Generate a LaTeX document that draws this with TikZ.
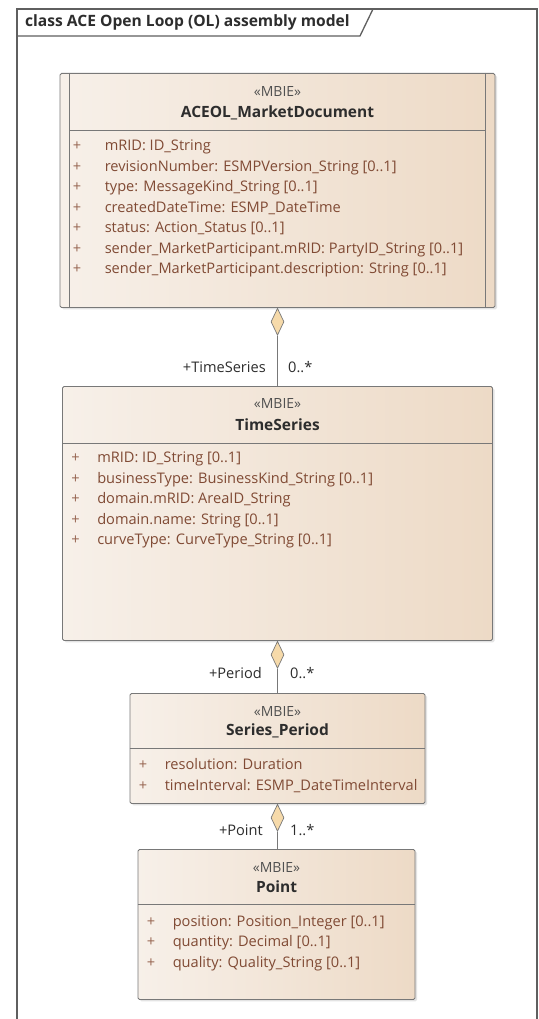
\documentclass[tikz,border=0pt]{standalone}
\usepackage{fontspec}
\setmainfont{Open Sans}
\usetikzlibrary{positioning, shapes.geometric, shadows}

\definecolor{frameline}{RGB}{95,95,95}
\definecolor{boxline}{RGB}{120,120,120}
\definecolor{boxleft}{RGB}{247,240,233}
\definecolor{boxmid}{RGB}{254,252,250}
\definecolor{boxright}{RGB}{237,218,198}
\definecolor{attrfg}{RGB}{128,74,52}
\definecolor{plusfg}{RGB}{150,100,80}
\definecolor{namefg}{RGB}{45,45,45}
\definecolor{stereofg}{RGB}{80,80,80}
\definecolor{diafill}{RGB}{246,218,170}

\newcommand{\pl}[1][26pt]{\textcolor{plusfg}{\makebox[#1][l]{+}}}

\tikzset{
  frame/.style={draw=frameline, line width=1.3pt},
  classbox/.style={draw=boxline, line width=0.9pt, rounded corners=1.5pt, inner sep=0pt,
    left color=boxleft, middle color=boxmid, right color=boxright,
    drop shadow={shadow xshift=2pt, shadow yshift=-2pt, opacity=0.22}},
  sepline/.style={draw=boxline, line width=0.9pt},
  stereo/.style={font=\fontsize{14}{16}\selectfont, text=stereofg, inner sep=0pt},
  cname/.style={font=\fontsize{15.5}{18}\selectfont\bfseries, text=namefg, inner sep=0pt},
  attr/.style={font=\fontsize{14.6}{17}\selectfont, text=attrfg, anchor=base west, inner sep=0pt},
  role/.style={font=\fontsize{14.6}{17}\selectfont, text=namefg, inner sep=0pt},
  agg/.style={diamond, draw=boxline, fill=diafill, line width=0.7pt, minimum width=13pt, minimum height=27pt, inner sep=0pt},
  assoc/.style={draw=boxline, line width=0.9pt},
  title/.style={font=\fontsize{15.6}{18}\selectfont\bfseries, text=namefg, inner sep=0pt}
}

\begin{document}
\begin{tikzpicture}[x=1pt, y=-1pt]
  \useasboundingbox[fill=white] (0,0) rectangle (538,1019);
  % diagram frame
  \draw[frame] (17,1030) -- (17,9) -- (537,9) -- (537,1030);
  \draw[frame] (17,36) -- (360,36) -- (373,9);
  \node[title, anchor=west] (title) at (25,22.5) {class ACE Open Loop (OL) assembly model};

  % ACEOL_MarketDocument
  \node[classbox, minimum width=435pt, minimum height=234pt, anchor=north] (doc) at (277.5,73) {};
  \draw[sepline] ([xshift=10pt]doc.north west) -- ([xshift=10pt]doc.south west);
  \draw[sepline] ([xshift=-10pt]doc.north east) -- ([xshift=-10pt]doc.south east);
  \node[stereo, anchor=base] (docst) at ([yshift=-24pt]doc.north) {«MBIE»};
  \node[cname, anchor=base] (docname) at ([yshift=-44.5pt]doc.north) {ACEOL\_MarketDocument};
  \draw[sepline] ([xshift=10pt, yshift=-57pt]doc.north west) -- ([xshift=-10pt, yshift=-57pt]doc.north east);
  \node[attr] (doc1) at ([xshift=13pt, yshift=-78pt]doc.north west) {\pl[32pt]mRID: ID\_String};
  \node[attr] (doc2) at ([yshift=-20.4pt]doc1.base west) {\pl[32pt]revisionNumber: ESMPVersion\_String [0..1]};
  \node[attr] (doc3) at ([yshift=-20.4pt]doc2.base west) {\pl[32pt]type: MessageKind\_String [0..1]};
  \node[attr] (doc4) at ([yshift=-20.4pt]doc3.base west) {\pl[32pt]createdDateTime: ESMP\_DateTime};
  \node[attr] (doc5) at ([yshift=-20.4pt]doc4.base west) {\pl[32pt]status: Action\_Status [0..1]};
  \node[attr] (doc6) at ([yshift=-20.4pt]doc5.base west) {\pl[32pt]sender\_MarketParticipant.mRID: PartyID\_String [0..1]};
  \node[attr] (doc7) at ([yshift=-20.4pt]doc6.base west) {\pl[32pt]sender\_MarketParticipant.description: String [0..1]};

  % TimeSeries
  \node[classbox, minimum width=430pt, minimum height=254pt, anchor=north] (ts) at (277.5,386) {};
  \node[stereo, anchor=base] (tsst) at ([yshift=-22pt]ts.north) {«MBIE»};
  \node[cname, anchor=base] (tsname) at ([yshift=-44.5pt]ts.north) {TimeSeries};
  \draw[sepline] ([yshift=-57pt]ts.north west) -- ([yshift=-57pt]ts.north east);
  \node[attr] (ts1) at ([xshift=9pt, yshift=-76.5pt]ts.north west) {\pl mRID: ID\_String [0..1]};
  \node[attr] (ts2) at ([yshift=-20.6pt]ts1.base west) {\pl businessType: BusinessKind\_String [0..1]};
  \node[attr] (ts3) at ([yshift=-20.6pt]ts2.base west) {\pl domain.mRID: AreaID\_String};
  \node[attr] (ts4) at ([yshift=-20.6pt]ts3.base west) {\pl domain.name: String [0..1]};
  \node[attr] (ts5) at ([yshift=-20.6pt]ts4.base west) {\pl curveType: CurveType\_String [0..1]};

  % Series_Period
  \node[classbox, minimum width=295pt, minimum height=110pt, anchor=north] (per) at (277.5,693) {};
  \node[stereo, anchor=base] (perst) at ([yshift=-23pt]per.north) {«MBIE»};
  \node[cname, anchor=base] (pername) at ([yshift=-42.5pt]per.north) {Series\_Period};
  \draw[sepline] ([yshift=-55pt]per.north west) -- ([yshift=-55pt]per.north east);
  \node[attr] (per1) at ([xshift=9pt, yshift=-76pt]per.north west) {\pl resolution: Duration};
  \node[attr] (per2) at ([yshift=-21pt]per1.base west) {\pl timeInterval: ESMP\_DateTimeInterval};

  % Point
  \node[classbox, minimum width=277pt, minimum height=150pt, anchor=north] (pt) at (276.5,849) {};
  \node[stereo, anchor=base] (ptst) at ([yshift=-23pt]pt.north) {«MBIE»};
  \node[cname, anchor=base] (ptname) at ([yshift=-43.5pt]pt.north) {Point};
  \draw[sepline] ([yshift=-55pt]pt.north west) -- ([yshift=-55pt]pt.north east);
  \node[attr] (pt1) at ([xshift=9pt, yshift=-77pt]pt.north west) {\pl position: Position\_Integer [0..1]};
  \node[attr] (pt2) at ([yshift=-20.8pt]pt1.base west) {\pl quantity: Decimal [0..1]};
  \node[attr] (pt3) at ([yshift=-20.8pt]pt2.base west) {\pl quality: Quality\_String [0..1]};

  % aggregations
  \node[agg, anchor=north] (agg1) at (doc.south) {};
  \draw[assoc] (agg1.south) -- (agg1.south |- ts.north);
  \node[role, anchor=base east] (tsrole) at ([xshift=-11.5pt, yshift=14pt]ts.north) {+TimeSeries};
  \node[role, anchor=base west] (tsmult) at ([xshift=10.5pt, yshift=14pt]ts.north) {0..*};

  \node[agg, anchor=north] (agg2) at (ts.south) {};
  \draw[assoc] (agg2.south) -- (agg2.south |- per.north);
  \node[role, anchor=base east] (perrole) at ([xshift=-15.5pt, yshift=15pt]per.north) {+Period};
  \node[role, anchor=base west] (permult) at ([xshift=12.5pt, yshift=15pt]per.north) {0..*};

  \node[agg, anchor=north] (agg3) at (per.south) {};
  \draw[assoc] (agg3.south) -- (agg3.south |- pt.north);
  \node[role, anchor=base east] (ptrole) at ([xshift=-13.5pt, yshift=14pt]pt.north) {+Point};
  \node[role, anchor=base west] (ptmult) at ([xshift=13.5pt, yshift=14pt]pt.north) {1..*};
\end{tikzpicture}
\end{document}
